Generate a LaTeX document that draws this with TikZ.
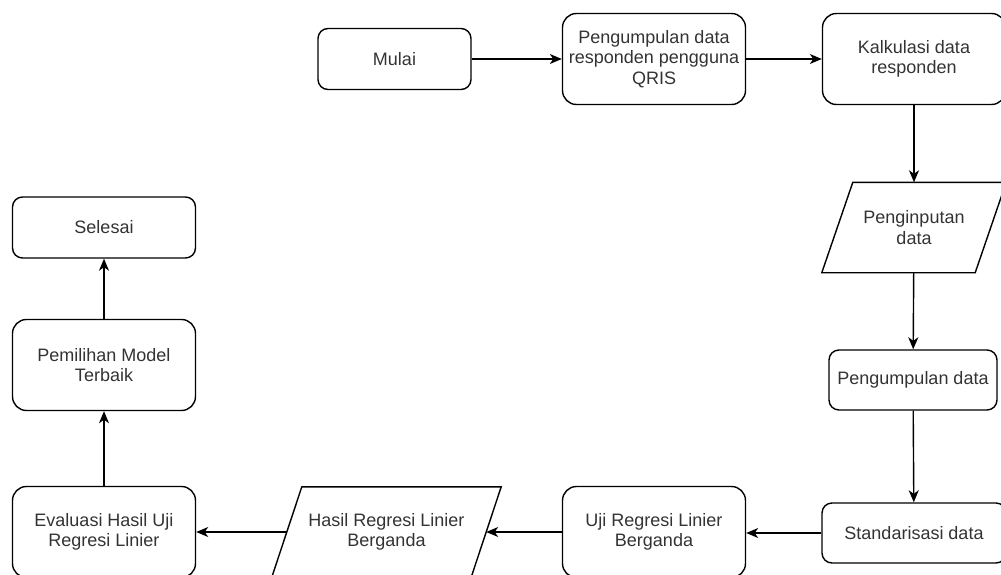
\documentclass[tikz,border=0pt]{standalone}
\usepackage{fontspec}
\setmainfont{Liberation Sans}
\usetikzlibrary{arrows.meta}
\tikzset{
  teks/.style={inner sep=0pt, align=center, text=black!80, font=\fontsize{18}{20.5}\selectfont},
  garis/.style={line width=1.4pt},
  proses/.style={teks, draw, garis, rounded corners=14pt, minimum width=183pt, minimum height=91pt},
  kecil/.style={rounded corners=10pt, minimum height=61pt},
  masukan/.style={teks, minimum height=90pt},
  panah/.style={-{Stealth[length=12pt,width=10pt,inset=3.5pt]}, garis},
}
\begin{document}
\begin{tikzpicture}[x=1pt,y=-1pt]
\useasboundingbox (0,0) rectangle (1001,575);
\clip (0,0) rectangle (1001,575);

% baris atas
\node[proses, kecil, minimum width=153pt] (mulai) at (394.5,59) {Mulai};
\node[proses] (kumpul) at (654,59) {Pengumpulan data\\responden pengguna\\QRIS};
\node[proses] (kalkulasi) at (914,59) {Kalkulasi data\\responden};

% kolom kanan
\node[masukan, minimum width=153pt] (input) at (914,227.5) {Penginputan\\data};
\draw[garis] ([xshift=15.5pt]input.north west) -- ([xshift=15.5pt]input.north east)
  -- ([xshift=-15.5pt]input.south east) -- ([xshift=-15.5pt]input.south west) -- cycle;
\node[proses, kecil, minimum width=168pt, minimum height=60pt] (pengumpulan) at (913,380) {Pengumpulan data};
\node[proses, kecil, minimum width=184pt, minimum height=60pt] (standar) at (914,533) {Standarisasi data};

% baris bawah
\node[proses] (uji) at (654,532) {Uji Regresi Linier\\Berganda};
\node[masukan, minimum width=199pt] (hasil) at (386.5,532) {Hasil Regresi Linier\\Berganda};
\draw[garis] ([xshift=15pt]hasil.north west) -- ([xshift=15pt]hasil.north east)
  -- ([xshift=-15pt]hasil.south east) -- ([xshift=-15pt]hasil.south west) -- cycle;
\node[proses] (evaluasi) at (104,532) {Evaluasi Hasil Uji\\Regresi Linier};

% kolom kiri
\node[proses] (pemilihan) at (104,365) {Pemilihan Model\\Terbaik};
\node[proses, kecil] (selesai) at (104,227.5) {Selesai};

\draw[panah] (mulai) -- (kumpul);
\draw[panah] (kumpul) -- (kalkulasi);
\draw[panah] (kalkulasi) -- (input);
\draw[panah] (input) -- (pengumpulan);
\draw[panah] (pengumpulan) -- (standar);
\draw[panah] (standar.west) -- (uji.east |- standar.west);
\draw[panah] (uji) -- (hasil);
\draw[panah] (hasil) -- (evaluasi);
\draw[panah] (evaluasi) -- (pemilihan);
\draw[panah] (pemilihan) -- (selesai);
\end{tikzpicture}
\end{document}
